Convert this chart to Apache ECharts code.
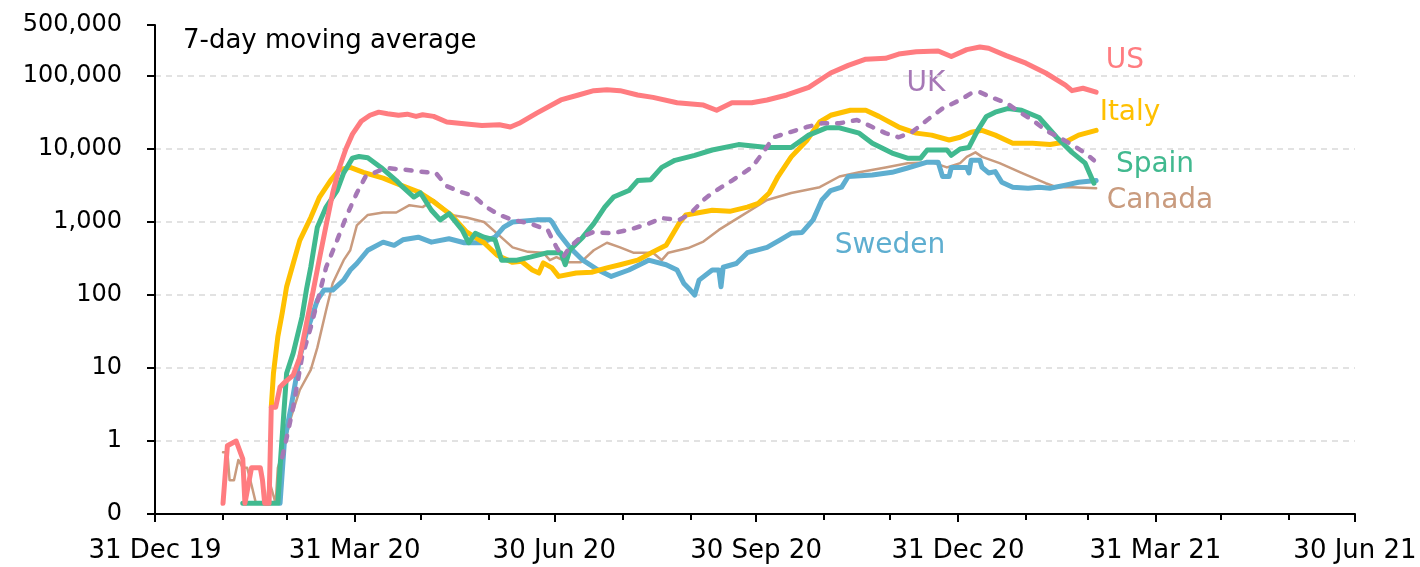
<!DOCTYPE html>
<html>
<head>
<meta charset="UTF-8">
<title>7-day moving average</title>
<script src="https://cdn.jsdelivr.net/npm/echarts@6/dist/echarts.min.js"></script>
<style>
  html, body { margin: 0; padding: 0; background: #fff; }
  #chart { width: 1420px; height: 567px; }
</style>
</head>
<body>
<div id="chart"></div>
<script>
// daily categories, 31 Dec 2019 .. 30 Jun 2021
var days = [];
for (var t = Date.UTC(2019, 11, 31); t <= Date.UTC(2021, 5, 30); t += 86400000) {
  days.push(new Date(t).toISOString().slice(0, 10));
}
var monthNames = ['Jan','Feb','Mar','Apr','May','Jun','Jul','Aug','Sep','Oct','Nov','Dec'];

// values: [date, 7-day average]
var us = [
  ['2020-01-31',0.14],['2020-02-02',0.86],['2020-02-06',1.0],['2020-02-09',0.57],['2020-02-10',0.14],
  ['2020-02-13',0.43],['2020-02-17',0.43],['2020-02-18',0.29],['2020-02-19',0.14],['2020-02-21',0.14],
  ['2020-02-22',2.9],['2020-02-24',2.9],['2020-02-26',5.5],['2020-02-28',6.3],['2020-03-03',8],
  ['2020-03-06',14],['2020-03-09',40],['2020-03-12',110],['2020-03-15',320],['2020-03-18',900],
  ['2020-03-21',2500],['2020-03-24',5500],['2020-03-27',10000],['2020-03-30',16000],['2020-04-03',24000],
  ['2020-04-07',29000],['2020-04-11',32000],['2020-04-15',30500],['2020-04-20',29000],['2020-04-24',30000],
  ['2020-04-28',28000],['2020-05-01',29500],['2020-05-06',28000],['2020-05-12',23500],['2020-05-21',22000],
  ['2020-05-28',21000],['2020-06-05',21500],['2020-06-10',20000],['2020-06-14',22500],['2020-06-22',31000],
  ['2020-07-03',47000],['2020-07-11',55000],['2020-07-18',63000],['2020-07-24',65000],['2020-07-30',63000],
  ['2020-08-07',55000],['2020-08-14',51000],['2020-08-25',43000],['2020-09-06',40000],['2020-09-12',34000],
  ['2020-09-19',43000],['2020-09-28',43000],['2020-10-05',47000],['2020-10-14',55000],['2020-10-24',70000],
  ['2020-11-03',110000],['2020-11-11',140000],['2020-11-19',170000],['2020-11-28',175000],['2020-12-04',200000],
  ['2020-12-12',215000],['2020-12-22',220000],['2020-12-28',185000],['2021-01-04',230000],['2021-01-10',250000],
  ['2021-01-14',240000],['2021-01-22',190000],['2021-01-31',150000],['2021-02-09',110000],['2021-02-18',75000],
  ['2021-02-21',63000],['2021-02-26',68000],['2021-03-04',60000]
];
var italy = [
  ['2020-02-22',2.9],['2020-02-23',8.5],['2020-02-25',27],['2020-02-27',57],['2020-02-29',130],
  ['2020-03-03',270],['2020-03-06',560],['2020-03-11',1150],['2020-03-15',2200],['2020-03-20',3700],
  ['2020-03-24',5200],['2020-03-29',5600],['2020-04-04',4800],['2020-04-13',4000],['2020-04-21',3200],
  ['2020-04-29',2600],['2020-05-06',1900],['2020-05-14',1250],['2020-05-21',730],['2020-05-29',520],
  ['2020-06-04',350],['2020-06-11',280],['2020-06-15',290],['2020-06-20',220],['2020-06-23',200],
  ['2020-06-25',275],['2020-06-29',235],['2020-07-02',180],['2020-07-10',200],['2020-07-17',205],
  ['2020-07-24',235],['2020-07-30',260],['2020-08-07',300],['2020-08-14',390],['2020-08-20',480],
  ['2020-08-26',970],['2020-08-29',1250],['2020-09-10',1450],['2020-09-18',1400],['2020-09-26',1600],
  ['2020-10-01',1800],['2020-10-06',2500],['2020-10-10',4200],['2020-10-16',7800],['2020-10-23',13000],
  ['2020-10-29',23500],['2020-11-03',29000],['2020-11-12',34000],['2020-11-19',34000],['2020-11-25',28000],
  ['2020-12-04',20000],['2020-12-12',16500],['2020-12-19',15500],['2020-12-27',13300],['2021-01-01',14500],
  ['2021-01-06',17000],['2021-01-11',18000],['2021-01-17',15500],['2021-01-25',12000],['2021-02-03',12000],
  ['2021-02-11',11500],['2021-02-18',12500],['2021-02-24',15500],['2021-03-04',18000]
];
var spain = [
  ['2020-02-09',0.14],['2020-02-25',0.14],['2020-02-26',0.44],['2020-02-29',8.5],['2020-03-03',16],
  ['2020-03-07',50],['2020-03-09',117],['2020-03-11',240],['2020-03-14',850],['2020-03-18',1600],
  ['2020-03-23',2700],['2020-03-26',4700],['2020-03-30',7500],['2020-04-02',7900],['2020-04-06',7600],
  ['2020-04-12',5600],['2020-04-19',3700],['2020-04-22',3000],['2020-04-27',2200],['2020-04-30',2500],
  ['2020-05-05',1450],['2020-05-09',1070],['2020-05-13',1300],['2020-05-19',780],['2020-05-22',520],
  ['2020-05-25',700],['2020-05-29',620],['2020-06-03',570],['2020-06-06',300],['2020-06-13',300],
  ['2020-06-19',330],['2020-06-27',380],['2020-07-03',380],['2020-07-05',260],['2020-07-07',410],
  ['2020-07-13',620],['2020-07-18',950],['2020-07-23',1600],['2020-07-27',2200],['2020-08-03',2700],
  ['2020-08-07',3700],['2020-08-13',3800],['2020-08-18',5600],['2020-08-24',7000],['2020-09-02',8200],
  ['2020-09-10',9700],['2020-09-22',11500],['2020-10-05',10500],['2020-10-16',10500],['2020-10-24',15500],
  ['2020-11-01',19500],['2020-11-07',19500],['2020-11-16',16500],['2020-11-22',12000],['2020-12-01',8800],
  ['2020-12-08',7500],['2020-12-14',7500],['2020-12-17',9700],['2020-12-26',9700],['2020-12-28',8200],
  ['2021-01-01',10000],['2021-01-05',10500],['2021-01-09',18000],['2021-01-13',28000],['2021-01-17',32000],
  ['2021-01-23',36000],['2021-01-29',34000],['2021-02-06',27000],['2021-02-14',14500],['2021-02-21',9000],
  ['2021-02-27',6400],['2021-03-03',3400]
];
var uk = [
  ['2020-02-27',0.6],['2020-02-29',1.1],['2020-03-03',2.9],['2020-03-07',14],['2020-03-11',36],
  ['2020-03-15',106],['2020-03-18',240],['2020-03-23',560],['2020-03-27',1150],['2020-04-01',2500],
  ['2020-04-05',4200],['2020-04-14',5500],['2020-04-23',5200],['2020-05-03',4800],['2020-05-07',4700],
  ['2020-05-12',3100],['2020-05-18',2600],['2020-05-24',2300],['2020-05-30',1600],['2020-06-05',1250],
  ['2020-06-11',1070],['2020-06-19',950],['2020-06-27',780],['2020-07-01',450],['2020-07-04',330],
  ['2020-07-07',450],['2020-07-12',620],['2020-07-18',730],['2020-07-26',700],['2020-08-03',780],
  ['2020-08-12',950],['2020-08-18',1130],['2020-08-26',1070],['2020-08-31',1300],['2020-09-06',2000],
  ['2020-09-10',2500],['2020-09-19',3700],['2020-09-28',5600],['2020-10-03',8800],['2020-10-08',14500],
  ['2020-10-14',16500],['2020-10-23',20000],['2020-10-30',22500],['2020-11-07',22500],['2020-11-15',25000],
  ['2020-11-22',20000],['2020-11-28',16500],['2020-12-04',14500],['2020-12-10',17000],['2020-12-17',25000],
  ['2020-12-24',36000],['2021-01-01',47000],['2021-01-06',58000],['2021-01-10',60000],['2021-01-16',50000],
  ['2021-01-22',43000],['2021-01-28',32000],['2021-02-03',25000],['2021-02-09',18000],['2021-02-15',14500],
  ['2021-02-21',11500],['2021-02-27',8800],['2021-03-03',7000]
];
var canada = [
  ['2020-01-31',0.7],['2020-02-02',0.7],['2020-02-03',0.29],['2020-02-05',0.29],['2020-02-07',0.55],
  ['2020-02-09',0.43],['2020-02-11',0.43],['2020-02-13',0.25],['2020-02-15',0.14],['2020-02-20',0.14],
  ['2020-02-21',0.29],['2020-02-24',0.14],['2020-02-25',0.43],['2020-02-27',0.69],['2020-03-02',2.1],
  ['2020-03-06',5],['2020-03-11',9.4],['2020-03-14',19],['2020-03-18',62],['2020-03-21',145],
  ['2020-03-26',300],['2020-03-29',410],['2020-04-01',900],['2020-04-06',1250],['2020-04-13',1350],
  ['2020-04-19',1350],['2020-04-25',1700],['2020-05-01',1600],['2020-05-06',2000],['2020-05-10',1600],
  ['2020-05-14',1250],['2020-05-21',1150],['2020-05-29',1000],['2020-06-05',650],['2020-06-11',450],
  ['2020-06-18',390],['2020-06-25',380],['2020-06-28',300],['2020-07-01',330],['2020-07-06',280],
  ['2020-07-12',280],['2020-07-18',410],['2020-07-24',520],['2020-07-30',450],['2020-08-05',380],
  ['2020-08-14',380],['2020-08-18',300],['2020-08-21',380],['2020-08-30',440],['2020-09-06',540],
  ['2020-09-13',780],['2020-09-22',1150],['2020-10-05',2000],['2020-10-16',2500],['2020-10-29',3000],
  ['2020-11-07',4200],['2020-11-16',4800],['2020-11-28',5600],['2020-12-08',6400],['2020-12-19',6600],
  ['2020-12-26',5600],['2021-01-01',6400],['2021-01-04',7800],['2021-01-08',9000],['2021-01-11',7800],
  ['2021-01-19',6400],['2021-01-29',4700],['2021-02-09',3400],['2021-02-14',3000],['2021-02-21',3000],
  ['2021-03-04',2900]
];
var sweden = [
  ['2020-02-26',0.14],['2020-02-28',1],['2020-03-02',2.9],['2020-03-06',14],['2020-03-09',30],
  ['2020-03-14',85],['2020-03-17',117],['2020-03-21',117],['2020-03-26',160],['2020-03-29',220],
  ['2020-04-01',270],['2020-04-06',410],['2020-04-13',530],['2020-04-18',480],['2020-04-22',570],
  ['2020-04-29',620],['2020-05-05',530],['2020-05-13',590],['2020-05-20',520],['2020-05-28',520],
  ['2020-06-03',620],['2020-06-07',850],['2020-06-11',1000],['2020-06-22',1070],['2020-06-28',1070],
  ['2020-06-29',1000],['2020-07-02',700],['2020-07-07',450],['2020-07-13',300],['2020-07-20',220],
  ['2020-07-26',180],['2020-08-03',220],['2020-08-12',300],['2020-08-20',260],['2020-08-25',220],
  ['2020-08-28',145],['2020-08-31',117],['2020-09-02',100],['2020-09-04',160],['2020-09-10',220],
  ['2020-09-13',220],['2020-09-14',130],['2020-09-15',240],['2020-09-21',270],['2020-09-26',380],
  ['2020-10-05',450],['2020-10-11',570],['2020-10-16',700],['2020-10-21',720],['2020-10-26',1070],
  ['2020-10-30',2000],['2020-11-03',2700],['2020-11-08',3000],['2020-11-11',4200],['2020-11-22',4400],
  ['2020-12-01',4800],['2020-12-08',5500],['2020-12-17',6600],['2020-12-22',6600],['2020-12-24',4200],
  ['2020-12-27',4200],['2020-12-28',5600],['2021-01-04',5600],['2021-01-05',4700],['2021-01-06',7000],
  ['2021-01-10',7000],['2021-01-11',5600],['2021-01-14',4700],['2021-01-17',4900],['2021-01-20',3500],
  ['2021-01-25',3000],['2021-02-01',2900],['2021-02-06',3000],['2021-02-11',2900],['2021-02-18',3200],
  ['2021-02-24',3500],['2021-03-04',3700]
];

var FONT = '"DejaVu Sans", sans-serif';

function isMonthEnd(v) {
  var d = new Date(v + 'T00:00:00Z');
  var n = new Date(d.getTime() + 86400000);
  return n.getUTCMonth() !== d.getUTCMonth();
}
function isQuarterEnd(v) {
  return isMonthEnd(v) && [2, 5, 8, 11].indexOf(+v.slice(5, 7) - 1) >= 0;
}
function dayLabel(v) {
  return +v.slice(8, 10) + ' ' + monthNames[+v.slice(5, 7) - 1] + ' ' + v.slice(2, 4);
}

function line(name, data, color, width, dash) {
  return {
    name: name, type: 'line', data: data, showSymbol: false, symbol: 'none',
    animation: false,
    lineStyle: { color: color, width: width, type: dash || 'solid', cap: 'round', join: 'round' }
  };
}

function tag(text, x, y, color) {
  return {
    type: 'text', x: x, y: y,
    style: { text: text, fill: color, font: '28px ' + FONT, align: 'center', verticalAlign: 'middle' }
  };
}

var chart = echarts.init(document.getElementById('chart'));

var option = {
  animation: false,
  grid: { left: 155, right: 65, top: 25, bottom: 53 },
  xAxis: [{
    type: 'category', data: days, boundaryGap: false,
    axisLine: { lineStyle: { color: '#000', width: 2 } },
    axisTick: {
      interval: function (i, v) { return isMonthEnd(v); },
      length: 6, lineStyle: { color: '#000', width: 2 }
    },
    axisLabel: {
      interval: function (i, v) { return isQuarterEnd(v); },
      formatter: dayLabel, color: '#000', fontSize: 26, fontFamily: FONT, margin: 24
    },
    splitLine: { show: false }
  }, {
    type: 'category', data: days, boundaryGap: false, position: 'bottom',
    axisLine: { show: false },
    axisTick: {
      interval: function (i, v) { return isQuarterEnd(v); },
      length: 8, lineStyle: { color: '#000', width: 2 }
    },
    axisLabel: { show: false },
    splitLine: { show: false }
  }],
  yAxis: {
    type: 'log', logBase: 10, min: 0.1, max: 500000,
    axisLine: { show: true, lineStyle: { color: '#000', width: 2 } },
    axisTick: { show: true, length: 8, lineStyle: { color: '#000', width: 2 } },
    axisLabel: {
      color: '#000', fontSize: 24, fontFamily: FONT, margin: 33,
      formatter: function (v) { return v < 0.5 ? '0' : Math.round(v).toLocaleString('en-US'); }
    },
    splitLine: {
      show: true, showMinLine: false, showMaxLine: false,
      lineStyle: { color: '#d9d9d9', width: 1.5, type: [6, 5] }
    }
  },
  series: [
    line('Canada', canada, '#c99b7e', 2.5),
    line('Sweden', sweden, '#5eaed0', 5),
    line('Italy', italy, '#ffc000', 5),
    line('Spain', spain, '#41b98f', 5),
    line('UK', uk, '#a678b6', 4.5, [6, 10]),
    line('US', us, '#ff7c80', 5)
  ],
  graphic: [
    { type: 'text', left: 183, top: 28, style: { text: '7-day moving average', fill: '#000', font: '26px ' + FONT } },
    tag('US', 1125, 61, '#ff7c80'),
    tag('UK', 926, 84, '#a678b6'),
    tag('Italy', 1130, 113, '#ffc000'),
    tag('Spain', 1155, 165, '#41b98f'),
    tag('Canada', 1160, 201, '#c99b7e'),
    tag('Sweden', 890, 246, '#5eaed0')
  ]
};

chart.setOption(option);
</script>
</body>
</html>
